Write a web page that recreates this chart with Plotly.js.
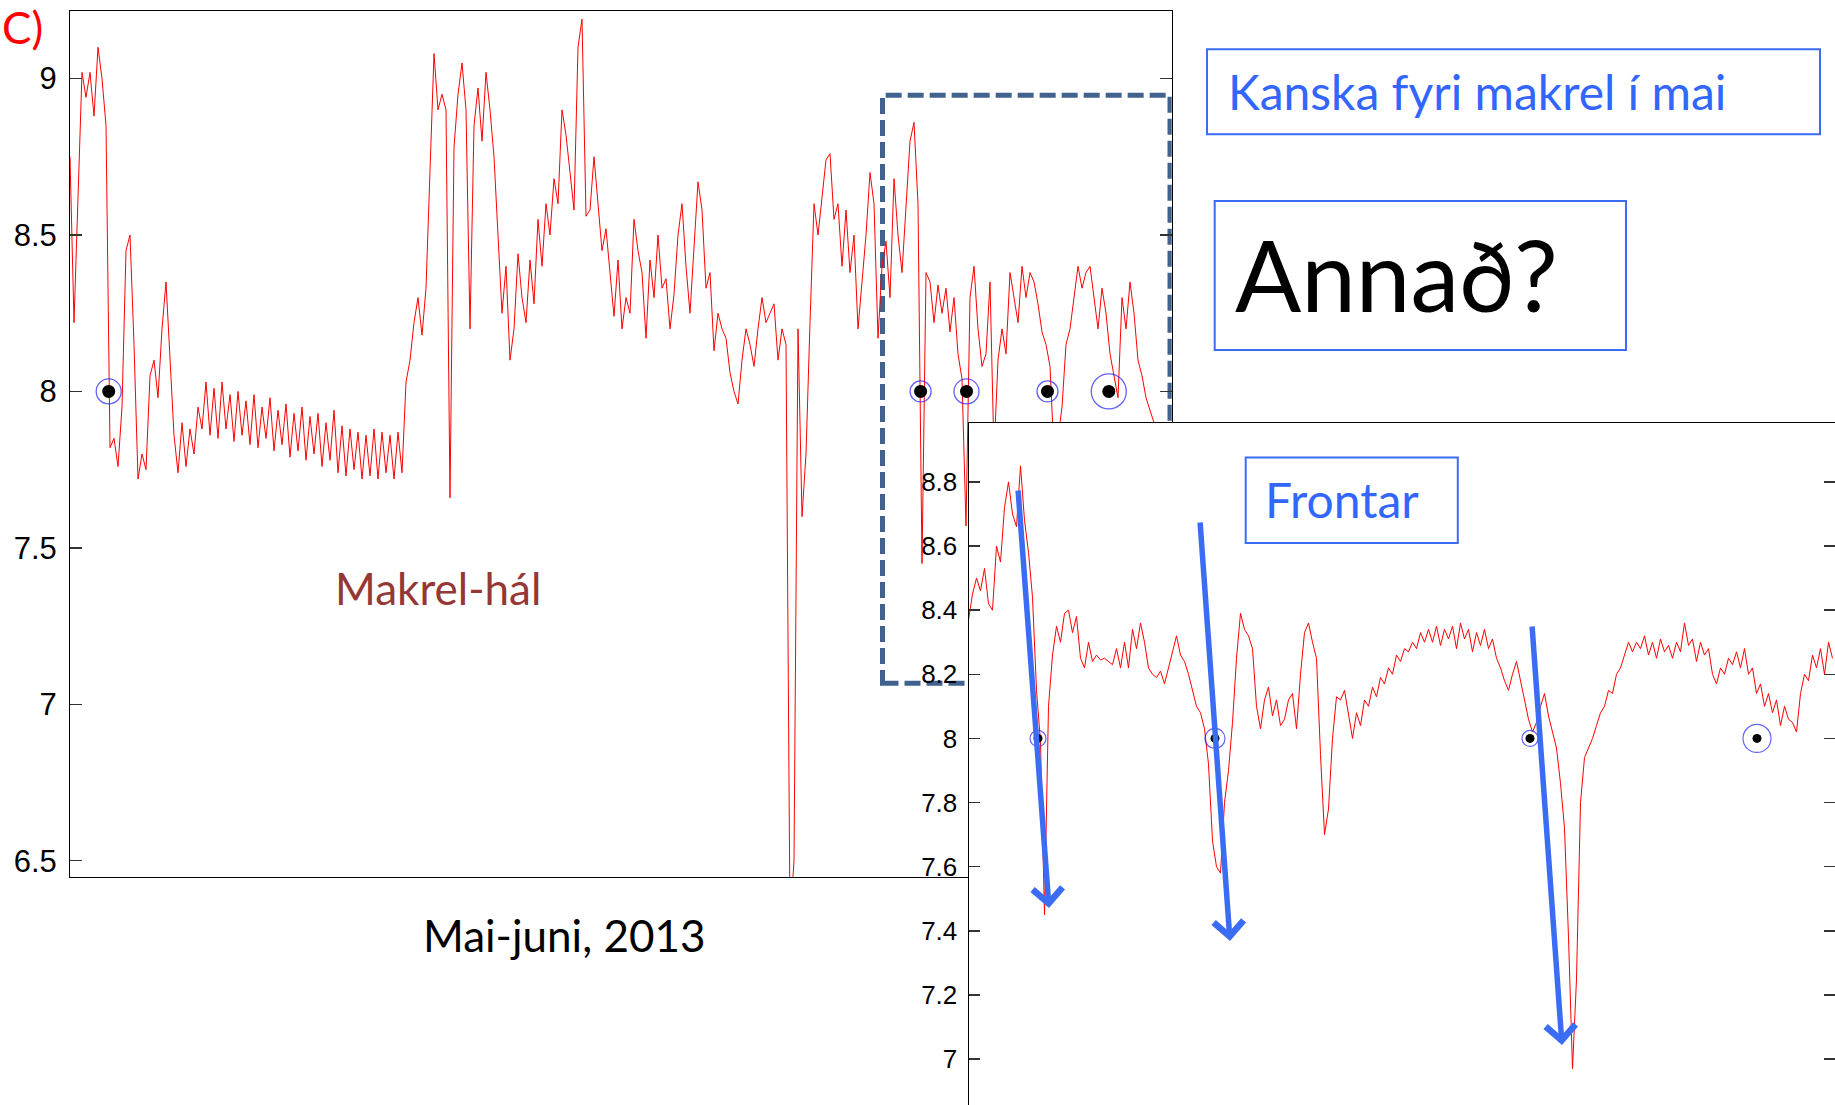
<!DOCTYPE html>
<html><head><meta charset="utf-8">
<script src="https://cdn.plot.ly/plotly-3.0.1.min.js"></script>
<style>html,body{margin:0;padding:0;background:#fff;} #chart{width:1835px;height:1105px;}</style>
</head><body><div id="chart"></div>
<script>
// Main series (Mai-juni 2013), evenly spaced samples
const mainTemp = [
8.75,8.22,8.62,9.02,8.94,9.02,8.88,9.10,9.00,8.85,
7.82,7.85,7.76,7.95,8.45,8.50,8.15,7.72,7.80,7.75,
8.05,8.10,7.98,8.20,8.35,8.08,7.86,7.74,7.90,7.76,
7.88,7.80,7.95,7.88,8.03,7.86,8.01,7.85,8.03,7.88,
7.99,7.84,8.00,7.86,7.97,7.83,7.99,7.82,7.95,7.85,
7.98,7.81,7.94,7.83,7.96,7.79,7.93,7.81,7.95,7.78,
7.92,7.80,7.93,7.76,7.90,7.78,7.94,7.74,7.89,7.73,
7.88,7.75,7.87,7.72,7.86,7.73,7.88,7.72,7.87,7.74,
7.86,7.72,7.87,7.74,8.03,8.10,8.22,8.30,8.18,8.33,
8.70,9.08,8.90,8.95,8.90,7.66,8.78,8.95,9.05,8.90,
8.20,8.85,8.97,8.80,9.02,8.90,8.75,8.50,8.25,8.40,
8.10,8.20,8.44,8.30,8.22,8.42,8.28,8.55,8.40,8.60,
8.50,8.68,8.60,8.90,8.82,8.70,8.58,9.10,9.19,8.56,
8.58,8.75,8.60,8.45,8.52,8.38,8.24,8.42,8.20,8.30,
8.25,8.55,8.45,8.38,8.17,8.42,8.30,8.50,8.33,8.36,
8.20,8.31,8.50,8.60,8.40,8.25,8.45,8.67,8.58,8.33,
8.38,8.13,8.25,8.20,8.17,8.06,8.00,7.96,8.10,8.20,
8.15,8.08,8.20,8.30,8.22,8.25,8.28,8.10,8.20,8.15,
6.30,6.50,8.20,7.60,7.80,8.22,8.60,8.50,8.62,8.74,
8.76,8.55,8.60,8.40,8.58,8.38,8.50,8.20,8.35,8.50,
8.70,8.60,8.17,8.40,8.48,8.30,8.68,8.50,8.38,8.58,
8.80,8.86,8.60,7.45,8.38,8.35,8.22,8.34,8.25,8.33,
8.19,8.30,8.12,8.04,7.57,8.30,8.40,8.20,8.08,8.12,
8.35,7.80,8.10,8.20,8.12,8.38,8.30,8.22,8.40,8.30,
8.38,8.35,8.28,8.19,8.15,8.08,7.80,7.85,7.95,8.15,
8.20,8.30,8.40,8.33,8.38,8.40,8.30,8.20,8.33,8.25,
8.12,8.05,7.98,8.30,8.20,8.35,8.25,8.10,8.05,7.98,
7.94,7.90,7.85];
const mainMarkX = [38.7, 850.6, 896.5, 977.5, 1038.8];
const mainMarkY = [8, 8, 8, 8, 8];
const mainTickVals = [6.5, 7, 7.5, 8, 8.5, 9];
const mainTickText = ['6.5', '7', '7.5', '8', '8.5', '9'];

// Zoomed series (inset)
const zoomTemp = [
8.37,8.45,8.50,8.46,8.53,8.42,8.40,8.60,8.55,8.72,
8.80,8.70,8.66,8.85,8.68,8.58,8.44,8.15,7.99,7.45,
8.10,8.26,8.35,8.30,8.39,8.40,8.33,8.38,8.25,8.22,
8.30,8.24,8.26,8.245,8.25,8.24,8.23,8.28,8.22,8.30,
8.22,8.34,8.28,8.36,8.30,8.22,8.20,8.19,8.21,8.17,
8.22,8.27,8.32,8.26,8.24,8.20,8.15,8.10,8.08,8.03,
7.92,7.68,7.60,7.58,7.80,7.90,8.05,8.25,8.39,8.34,
8.32,8.28,8.10,8.03,8.12,8.16,8.07,8.12,8.04,8.06,
8.12,8.14,8.03,8.20,8.33,8.36,8.30,8.25,7.95,7.70,
7.78,8.00,8.13,8.12,8.15,8.07,8.00,8.08,8.04,8.12,
8.10,8.16,8.13,8.19,8.17,8.22,8.20,8.26,8.24,8.28,
8.27,8.30,8.28,8.33,8.30,8.34,8.30,8.35,8.29,8.34,
8.31,8.35,8.28,8.36,8.31,8.34,8.27,8.33,8.29,8.34,
8.28,8.31,8.25,8.22,8.18,8.15,8.20,8.24,8.18,8.12,
8.06,8.02,8.05,8.10,8.14,8.07,8.02,7.97,7.86,7.72,
7.38,6.97,7.25,7.80,7.94,7.97,8.00,8.04,8.08,8.10,
8.15,8.14,8.20,8.22,8.26,8.30,8.27,8.30,8.28,8.32,
8.26,8.30,8.25,8.31,8.27,8.29,8.25,8.30,8.27,8.36,
8.29,8.31,8.24,8.30,8.26,8.28,8.20,8.17,8.22,8.20,
8.25,8.23,8.27,8.22,8.28,8.20,8.22,8.14,8.17,8.10,
8.14,8.08,8.12,8.04,8.10,8.06,8.05,8.02,8.14,8.20,
8.18,8.26,8.22,8.28,8.20,8.30,8.25];
const zoomMarkX = [69.5, 246.5, 561.5, 788.5];
const zoomMarkY = [8, 8, 8, 8];
const zoomTickVals = [7, 7.2, 7.4, 7.6, 7.8, 8, 8.2, 8.4, 8.6, 8.8];
const zoomTickText = ['7', '7.2', '7.4', '7.6', '7.8', '8', '8.2', '8.4', '8.6', '8.8'];

const W = 1835, H = 1105;
const px = v => v / W;
const py = v => 1 - v / H;
const RED = '#ff0000';
const RING = '#1f1fff';
const BLUE = '#3a6cf4';
const TXTBLUE = '#3366ff';
const TICKFONT = 'Liberation Sans, Arial, sans-serif';
const TXTFONT = 'Lato, Open Sans, sans-serif';

const traces = [
  {type: 'scatter', mode: 'lines', x0: 0, dx: 4, y: mainTemp, xaxis: 'x', yaxis: 'y',
   line: {color: RED, width: 1}, hoverinfo: 'skip'},
  {type: 'scatter', mode: 'markers', x: mainMarkX, y: mainMarkY, xaxis: 'x', yaxis: 'y',
   marker: {symbol: 'circle-open', size: [25, 21, 25, 21, 35], color: RING, line: {width: 1.3, color: RING}}},
  {type: 'scatter', mode: 'markers', x: mainMarkX, y: mainMarkY, xaxis: 'x', yaxis: 'y',
   marker: {symbol: 'circle', size: 13, color: '#000'}},
  {type: 'scatter', mode: 'lines', x0: 0, dx: 4, y: zoomTemp, xaxis: 'x2', yaxis: 'y2',
   line: {color: RED, width: 1}, hoverinfo: 'skip'},
  {type: 'scatter', mode: 'markers', x: zoomMarkX, y: zoomMarkY, xaxis: 'x2', yaxis: 'y2',
   marker: {symbol: 'circle-open', size: [16, 20, 16, 28], color: RING, line: {width: 1.2, color: RING}}},
  {type: 'scatter', mode: 'markers', x: zoomMarkX, y: zoomMarkY, xaxis: 'x2', yaxis: 'y2',
   marker: {symbol: 'circle', size: 9, color: '#000'}}
];

function arrow(tipX, tipY, tailX, tailY) {
  return {xref: 'paper', yref: 'paper', x: px(tipX), y: py(tipY),
    axref: 'pixel', ayref: 'pixel', ax: tailX - tipX, ay: tailY - tipY,
    text: '', showarrow: true, arrowhead: 4, arrowwidth: 5.5, arrowsize: 1.05,
    arrowcolor: BLUE, standoff: 0, startstandoff: 0};
}
function label(text, x, y, size, color, anchor) {
  return {xref: 'paper', yref: 'paper', x: px(x), y: py(y), text: text, showarrow: false,
    xanchor: anchor || 'left', yanchor: 'middle', font: {family: TXTFONT, size: size, color: color}};
}
function box(x0, y0, x1, y1, w) {
  return {type: 'rect', xref: 'paper', yref: 'paper', x0: px(x0), x1: px(x1), y0: py(y1), y1: py(y0),
    line: {color: BLUE, width: w}, fillcolor: 'rgba(0,0,0,0)', layer: 'above'};
}

const layout = {
  width: W, height: H,
  margin: {l: 0, r: 0, t: 0, b: 0, pad: 0},
  paper_bgcolor: '#fff', plot_bgcolor: '#fff',
  showlegend: false,
  xaxis: {domain: [px(70), px(1171.7)], range: [0, 1101.7], showgrid: false, zeroline: false,
    showline: true, mirror: true, linecolor: '#000', linewidth: 1, ticks: '', showticklabels: false, fixedrange: true},
  yaxis: {domain: [py(877.3), py(10.7)], range: [6.447, 9.217], showgrid: false, zeroline: false,
    showline: true, mirror: 'ticks', linecolor: '#000', linewidth: 1,
    ticks: 'inside', ticklen: 12, tickwidth: 1.5, tickcolor: '#333',
    tickmode: 'array', tickvals: mainTickVals, ticktext: mainTickText, ticklabelstandoff: 6,
    tickfont: {family: TICKFONT, size: 31, color: '#000'}, fixedrange: true},
  xaxis2: {domain: [px(968.5), 1], range: [0, 866.5], anchor: 'y2', showgrid: false, zeroline: false,
    showline: true, mirror: true, linecolor: '#000', linewidth: 1, ticks: '', showticklabels: false, fixedrange: true},
  yaxis2: {domain: [0, py(422.7)], range: [6.857, 8.9845], anchor: 'x2', showgrid: false, zeroline: false,
    showline: true, mirror: 'ticks', linecolor: '#000', linewidth: 1,
    ticks: 'inside', ticklen: 11, tickwidth: 1.5, tickcolor: '#333',
    tickmode: 'array', tickvals: zoomTickVals, ticktext: zoomTickText, ticklabelstandoff: 5,
    tickfont: {family: TICKFONT, size: 26, color: '#000'}, fixedrange: true},
  shapes: [
    {type: 'rect', xref: 'x', yref: 'y', x0: 812.5, x1: 1100, y0: 7.067, y1: 8.947,
     line: {color: '#41628f', width: 5, dash: '16px,6px'}, fillcolor: 'rgba(0,0,0,0)', layer: 'below'},
    box(1207, 49.3, 1820, 134.3, 2),
    box(1214.7, 201, 1626, 350, 2),
    box(1245.7, 457.6, 1457.8, 543, 2)
  ],
  annotations: [
    label('C)', 0, 27, 44, RED, 'left'),
    label('Makrel-hál', 332.5, 588, 44, '#953735'),
    label('Mai-juni, 2013', 420.5, 934.5, 44, '#000'),
    label('Kanska fyri makrel í mai', 1226, 91.5, 48, TXTBLUE),
    label('Annað?', 1233, 274, 98, '#000'),
    label('Frontar', 1263, 500, 48, TXTBLUE),
    arrow(1049, 908, 1018, 489),
    arrow(1230, 941, 1200, 521),
    arrow(1562, 1045, 1532, 625)
  ]
};

Plotly.newPlot('chart', traces, layout, {staticPlot: true, displayModeBar: false});
</script>
</body></html>
